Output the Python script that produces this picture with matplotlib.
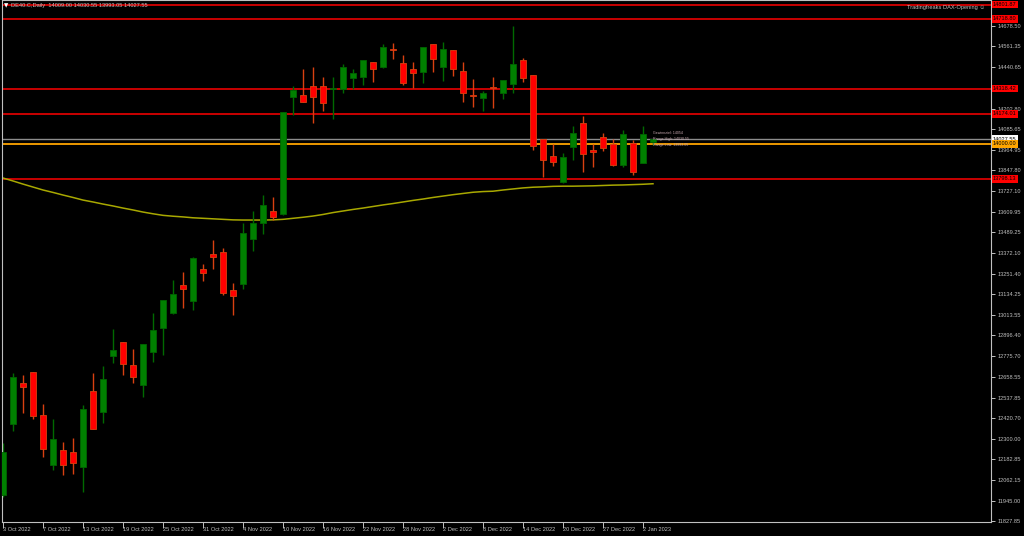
import matplotlib
matplotlib.use("Agg")
import matplotlib.pyplot as plt
import numpy as np

# Daily OHLC, 3 Oct 2022 .. 3 Jan 2023
opens = [11978, 12388, 12621, 12684, 12438, 12150, 12237, 12223, 12139, 12575,
         12457, 12780, 12857, 12726, 12611, 12801, 12939, 13027, 13185, 13093,
         13277, 13365, 13377, 13158, 13193, 13452, 13546, 13613, 13594, 14268,
         14281, 14333, 14333, 14317, 14316, 14381, 14383, 14471, 14444, 14546,
         14465, 14429, 14412, 14575, 14444, 14540, 14421, 14281, 14266, 14327,
         14294, 14346, 14483, 14396, 14026, 13930, 13780, 13980, 14120, 13964,
         14041, 13999, 13880, 14003, 13891, 14009.00]
highs = [12277, 12678, 12669, 12684, 12502, 12415, 12283, 12304, 12496, 12678,
         12720, 12935, 12857, 12820, 12849, 13026, 13100, 13216, 13262, 13350,
         13308, 13444, 13400, 13197, 13544, 13613, 13704, 13694, 14183, 14333,
         14431, 14441, 14383, 14383, 14460, 14431, 14481, 14471, 14575, 14581,
         14513, 14471, 14556, 14575, 14586, 14540, 14473, 14373, 14306, 14387,
         14366, 14680, 14496, 14396, 14026, 14001, 13947, 14103, 14160, 14001,
         14062, 14026, 14080, 14022, 14103, 14030.55]
lows = [11966, 12348, 12452, 12415, 12196, 12122, 12094, 12100, 11995, 12356,
        12390, 12739, 12669, 12624, 12544, 12742, 12784, 13020, 13056, 13043,
        13212, 13281, 13129, 13014, 13164, 13383, 13482, 13561, 13588, 14164,
        14241, 14122, 14191, 14145, 14294, 14316, 14337, 14354, 14438, 14490,
        14337, 14321, 14352, 14412, 14360, 14389, 14239, 14210, 14191, 14208,
        14256, 14294, 14356, 13963, 13809, 13872, 13776, 13909, 13836, 13868,
        13959, 13872, 13865, 13819, 13888, 13993.05]
closes = [12227, 12655, 12600, 12434, 12242, 12302, 12150, 12160, 12471, 12359,
          12644, 12813, 12734, 12659, 12849, 12928, 13098, 13133, 13164, 13342,
          13254, 13350, 13143, 13125, 13486, 13544, 13646, 13579, 14183, 14310,
          14241, 14268, 14237, 14323, 14444, 14408, 14481, 14431, 14556, 14542,
          14352, 14408, 14556, 14488, 14546, 14433, 14294, 14277, 14293, 14321,
          14366, 14460, 14381, 13989, 13905, 13897, 13924, 14062, 13941, 13955,
          13978, 13880, 14057, 13838, 14057, 14027.55]
ma200 = [13803, 13786, 13768, 13751, 13734, 13720, 13705, 13691, 13676, 13665,
         13653, 13642, 13630, 13619, 13607, 13597, 13588, 13583, 13579, 13574,
         13571, 13568, 13565, 13562, 13561, 13561, 13561, 13562, 13565, 13571,
         13577, 13584, 13593, 13604, 13613, 13622, 13630, 13639, 13648, 13656,
         13665, 13674, 13682, 13691, 13699, 13707, 13714, 13721, 13725, 13727,
         13734, 13740, 13746, 13750, 13752, 13755, 13756, 13756, 13757, 13758,
         13760, 13762, 13763, 13765, 13767, 13770]

date_pos = [0, 4, 8, 12, 16, 20, 24, 28, 32, 36, 40, 44, 48, 52, 56, 60, 64]
date_labels = ["3 Oct 2022", "7 Oct 2022", "13 Oct 2022", "19 Oct 2022",
               "25 Oct 2022", "31 Oct 2022", "4 Nov 2022", "10 Nov 2022",
               "16 Nov 2022", "22 Nov 2022", "28 Nov 2022", "2 Dec 2022",
               "8 Dec 2022", "14 Dec 2022", "20 Dec 2022", "27 Dec 2022",
               "2 Jan 2023"]
price_ticks = [14678.50, 14561.35, 14440.65, 14202.80, 14085.65, 13964.95,
               13847.80, 13727.10, 13609.95, 13489.25, 13372.10, 13251.40,
               13134.25, 13013.55, 12896.40, 12775.70, 12658.55, 12537.85,
               12420.70, 12300.00, 12182.85, 12062.15, 11945.00, 11827.85]
red_levels = [14801.87, 14718.80, 14318.42, 14174.01, 13798.13]
bid_level = 14027.55
orange_level = 14000.00

plt.rcParams["font.family"] = ["Liberation Sans", "DejaVu Sans"]
FS = 4.1
AXC = "#c0c0c0"

fig = plt.figure(figsize=(10.24, 5.36), dpi=100, facecolor="black")
ax = fig.add_axes([2 / 1024, 14 / 536, 989 / 1024, 522 / 536])
ax.set_facecolor("black")

x = np.arange(len(opens))
o = np.array(opens, dtype=float)
h = np.array(highs, dtype=float)
l = np.array(lows, dtype=float)
c = np.array(closes, dtype=float)
up = c >= o

# levels behind the candles
for lvl in red_levels:
    ax.axhline(lvl, color="#ff0000", lw=1.1, zorder=1)
ax.axhline(bid_level, color="#8c8c8c", lw=1.0, zorder=1)
ax.axhline(orange_level, color="#ffa500", lw=1.3, zorder=1)
ax.plot(x, ma200, color="#a8a800", lw=1.1, zorder=1)

# candles
ax.vlines(x[up], l[up], h[up], color="#006a00", lw=1.0, zorder=2)
ax.vlines(x[~up], l[~up], h[~up], color="#d84010", lw=1.0, zorder=2)
ax.bar(x[up], c[up] - o[up], bottom=o[up], width=0.68, color="#008000",
       edgecolor="#006400", lw=0.6, zorder=3)
ax.bar(x[~up], o[~up] - c[~up], bottom=c[~up], width=0.68, color="#ff0000",
       edgecolor="#d84010", lw=0.6, zorder=3)

ax.set_xlim(-0.1, 98.8)
ax.set_ylim(11822, 14828.2)

for s in ax.spines.values():
    s.set_color(AXC)
    s.set_linewidth(0.8)

ax.yaxis.tick_right()
ax.set_yticks(price_ticks)
ax.set_yticklabels([f"{v:.2f}" for v in price_ticks])
ax.set_xticks(date_pos)
ax.set_xticklabels(date_labels)
for lbl in ax.get_xticklabels():
    lbl.set_horizontalalignment("left")
ax.tick_params(axis="y", colors=AXC, labelsize=FS, length=3, width=0.7, pad=2)
ax.tick_params(axis="x", colors=AXC, labelsize=FS, length=4, width=0.7, pad=-0.5)

# price labels of the horizontal lines
tr = ax.get_yaxis_transform()
for lvl in red_levels:
    ax.text(1.002, lvl, f"{lvl:.2f}", transform=tr, fontsize=FS, color="black",
            va="center", ha="left", zorder=5,
            bbox=dict(boxstyle="square,pad=0.25", fc="#ff0000", ec="none"))
ax.text(1.002, bid_level, f"{bid_level:.2f}", transform=tr, fontsize=FS,
        color="black", va="center", ha="left", zorder=5,
        bbox=dict(boxstyle="square,pad=0.25", fc="white", ec="none"))
ax.text(1.002, orange_level, f"{orange_level:.2f}", transform=tr, fontsize=FS,
        color="black", va="center", ha="left", zorder=5,
        bbox=dict(boxstyle="square,pad=0.25", fc="#ffa500", ec="none"))

# header texts
fig.text(4 / 1024, 1 - 6 / 536, "\u25bc", fontsize=FS, color="white",
         va="center", ha="left", family="DejaVu Sans")
fig.text(11 / 1024, 1 - 6 / 536,
         "DE40.C,Daily  14009.00 14030.55 13993.05 14027.55",
         fontsize=FS, color=AXC, va="center", ha="left")
fig.text(985 / 1024, 1 - 7 / 536, "Tradingfreaks DAX-Opening \u263a",
         fontsize=FS, color=AXC, va="center", ha="right",
         family=["Liberation Sans", "DejaVu Sans"])

# small info text next to the last bar
info = ["Gewinnziel: 14054", "Range High: 14030.55", "Range Low: 13993.05"]
for k, t in enumerate(info):
    ax.text(65.0, 14060 - k * 32, t, fontsize=2.6, color="#c8a8b0",
            va="center", ha="left", zorder=5)

fig.savefig("out.png", dpi=100, facecolor="black")
